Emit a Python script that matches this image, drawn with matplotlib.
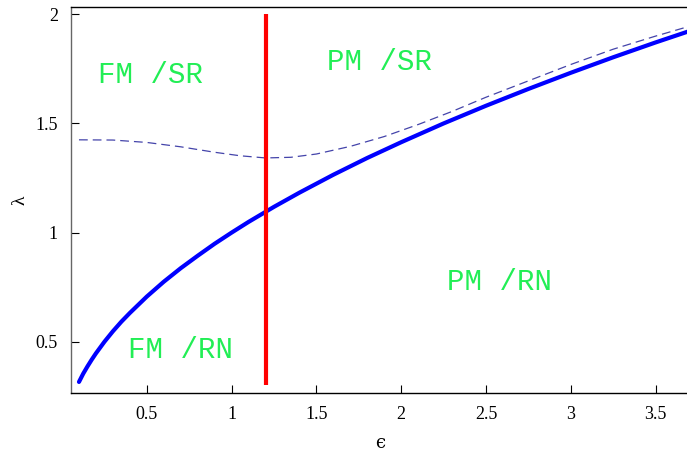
import matplotlib
matplotlib.use("Agg")
import matplotlib.pyplot as plt

# Solid phase boundary
eps_solid = [0.1, 0.125, 0.15, 0.175, 0.2, 0.25, 0.3, 0.35, 0.4, 0.5, 0.6, 0.7, 0.8, 0.9,
             1.0, 1.1, 1.25, 1.4, 1.6, 1.8, 2.0, 2.25, 2.5, 2.75, 3.0, 3.25, 3.5, 3.73]
lam_solid = [0.316, 0.354, 0.387, 0.418, 0.447, 0.5, 0.548, 0.592, 0.632, 0.707, 0.775,
             0.837, 0.894, 0.949, 1.0, 1.049, 1.118, 1.183, 1.265, 1.342, 1.414, 1.5,
             1.581, 1.658, 1.732, 1.803, 1.871, 1.931]

# Dashed curve
eps_dash = [0.1, 0.3, 0.5, 0.7, 0.9, 1.05, 1.2, 1.35, 1.5, 1.7, 1.9, 2.1, 2.3, 2.5,
            2.75, 3.0, 3.25, 3.5, 3.73]
lam_dash = [1.425, 1.424, 1.413, 1.393, 1.368, 1.352, 1.342, 1.345, 1.36, 1.395, 1.44,
            1.495, 1.555, 1.62, 1.695, 1.77, 1.84, 1.90, 1.952]

# Vertical red line
eps_red = [1.2, 1.2]
lam_red = [0.3, 2.0]

labels = ["FM /SR", "PM /SR", "PM /RN", "FM /RN"]
label_x = [0.52, 1.87, 2.58, 0.70]
label_y = [1.72, 1.78, 0.774, 0.463]

xticks = [0.5, 1, 1.5, 2, 2.5, 3, 3.5]
xticklabels = ["0.5", "1", "1.5", "2", "2.5", "3", "3.5"]
yticks = [0.5, 1, 1.5, 2]
yticklabels = ["0.5", "1", "1.5", "2"]

fig = plt.figure(figsize=(6.87, 4.54), dpi=100)
ax = fig.add_axes([70.5/687, 1-393.3/454, 1-70.5/687+0.01, (393.3-7.3)/454])

ax.plot(eps_dash, lam_dash, color="#4444aa", lw=0.9, dashes=(7, 4))
ax.plot(eps_solid, lam_solid, color="#0000ff", lw=3.0, solid_capstyle="round",
        solid_joinstyle="round")
ax.plot(eps_red, lam_red, color="#ff0000", lw=3.0, solid_capstyle="butt")

for t, x, y in zip(labels, label_x, label_y):
    ax.text(x, y, t, color="#22ee55", fontsize=21, family="Liberation Mono",
            ha="center", va="center")

ax.set_xlim(0.05, 3.726)
ax.set_ylim(0.264, 2.032)
ax.set_xticks(xticks)
ax.set_xticklabels(xticklabels)
ax.set_yticks(yticks)
ax.set_yticklabels(yticklabels)
ax.tick_params(direction="in", length=6, width=0.8, labelsize=13, pad=9)
for lbl in ax.get_xticklabels() + ax.get_yticklabels():
    lbl.set_family("Liberation Serif")
ax.set_xlabel("ϵ", fontsize=13, family=["DejaVu Serif"])
ax.xaxis.set_label_coords(0.497, -0.105)
ax.set_ylabel("λ", fontsize=14, family=["Liberation Serif", "DejaVu Serif"])
ax.yaxis.set_label_coords(-0.068, 0.5)
for s in ax.spines.values():
    s.set_linewidth(1.0)
ax.spines["left"].set_color("#666666")

fig.savefig("out.png", dpi=100)
